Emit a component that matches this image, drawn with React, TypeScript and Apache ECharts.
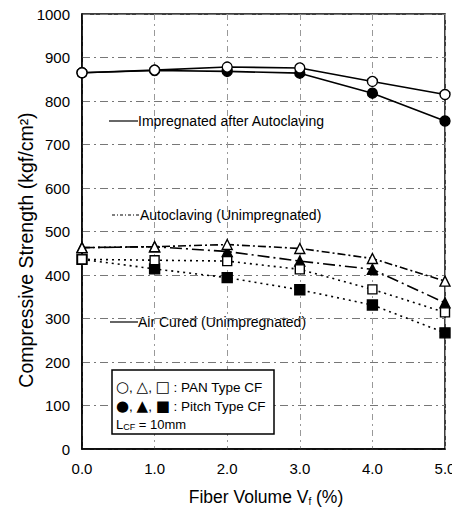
import React, { useEffect, useRef } from "react";
import * as echarts from "echarts";

const fiberVolume = [0, 1, 2, 3, 4, 5];
const impregPAN = [865, 871, 878, 876, 845, 815];
const impregPitch = [865, 870, 868, 864, 818, 754];
const autoPAN = [463, 465, 470, 461, 438, 386];
const autoPitch = [463, 465, 454, 432, 413, 336];
const airPAN = [436, 434, 432, 413, 367, 314];
const airPitch = [436, 414, 394, 366, 331, 267];

const FONT = "Liberation Sans";

function pairs(vals: number[]) {
  return fiberVolume.map((x, i) => [x, vals[i]]);
}

export default function App() {
  const ref = useRef<HTMLDivElement>(null);
  useEffect(() => {
    if (!ref.current) return;
    const chart = echarts.init(ref.current, undefined, { renderer: "svg" });
    const mk = (
      name: string,
      vals: number[],
      symbol: string,
      filled: boolean,
      lineType: any,
      size: number
    ) => ({
      name,
      type: "line",
      data: pairs(vals),
      symbol,
      symbolSize: size,
      showAllSymbol: true,
      lineStyle: { color: "#000", width: 1.6, type: lineType },
      itemStyle: {
        color: filled ? "#000" : "#fff",
        borderColor: "#000",
        borderWidth: 1.4,
      },
      z: filled ? 3 : 4,
    });
    const symStyle = { fontFamily: "DejaVu Sans", fontSize: 15, fill: "#000" };
    const txtStyle = { fontFamily: FONT, fontSize: 13.5, fill: "#000" };
    chart.setOption({
      animation: false,
      backgroundColor: "#fff",
      textStyle: { fontFamily: FONT },
      grid: {
        left: 82,
        right: 15,
        top: 14,
        bottom: 66,
        show: true,
        borderColor: "#000",
        borderWidth: 1.5,
      },
      xAxis: {
        type: "value",
        min: 0,
        max: 5,
        interval: 1,
        axisLine: { show: true, lineStyle: { color: "#000", width: 1.5 } },
        axisTick: { show: false },
        axisLabel: {
          fontFamily: FONT,
          fontSize: 15,
          color: "#000",
          margin: 12,
          formatter: (v: number) => v.toFixed(1),
        },
        splitLine: {
          show: true,
          lineStyle: { color: "#999", width: 1, type: [6, 4, 2, 4] },
        },
      },
      yAxis: {
        type: "value",
        min: 0,
        max: 1000,
        interval: 100,
        axisLine: { show: true, lineStyle: { color: "#000", width: 1.5 } },
        axisTick: { show: false },
        axisLabel: {
          fontFamily: FONT,
          fontSize: 15,
          color: "#000",
          margin: 12,
          formatter: (v: number) => String(v),
        },
        splitLine: {
          show: true,
          lineStyle: { color: "#777", width: 1, type: [8, 4, 2, 4] },
        },
      },
      series: [
        mk("Impregnated PAN", impregPAN, "circle", false, "solid", 10),
        mk("Impregnated Pitch", impregPitch, "circle", true, "solid", 10),
        mk("Autoclaving PAN", autoPAN, "triangle", false, [8, 3, 2, 3], 10),
        mk("Autoclaving Pitch", autoPitch, "triangle", true, [12, 4, 2, 4], 10),
        mk("Air Cured PAN", airPAN, "rect", false, [2, 4], 9),
        mk("Air Cured Pitch", airPitch, "rect", true, [2, 4], 10),
      ],
      graphic: [
        {
          type: "text",
          x: 26,
          y: 250,
          rotation: Math.PI / 2,
          style: {
            text: "Compressive Strength (kgf/cm²)",
            font: `19.5px "${FONT}"`,
            fill: "#000",
            align: "center",
            verticalAlign: "middle",
          },
        },
        {
          type: "text",
          x: 266,
          y: 487,
          style: {
            text: "Fiber Volume V{sub|f} (%)",
            font: `17.5px "${FONT}"`,
            fill: "#000",
            align: "center",
            verticalAlign: "top",
            rich: { sub: { fontSize: 10, fontFamily: FONT, fill: "#000", padding: [9, 0, 0, 0] } },
          },
        },
        { type: "line", shape: { x1: 109, y1: 121, x2: 138, y2: 121 }, style: { stroke: "#000", lineWidth: 1.2 } },
        { type: "text", x: 138, y: 121, style: { text: "Impregnated after Autoclaving", font: `14px "${FONT}"`, fill: "#000", verticalAlign: "middle" } },
        { type: "line", shape: { x1: 112, y1: 215, x2: 140, y2: 215 }, style: { stroke: "#000", lineWidth: 1.2, lineDash: [3, 2, 1, 2] } },
        { type: "text", x: 140, y: 215, style: { text: "Autoclaving (Unimpregnated)", font: `14px "${FONT}"`, fill: "#000", verticalAlign: "middle" } },
        { type: "line", shape: { x1: 110, y1: 322, x2: 138, y2: 322 }, style: { stroke: "#000", lineWidth: 1.2 } },
        { type: "text", x: 138, y: 322, style: { text: "Air Cured (Unimpregnated)", font: `14px "${FONT}"`, fill: "#000", verticalAlign: "middle" } },
        {
          type: "rect",
          shape: { x: 112, y: 370, width: 162, height: 64 },
          style: { fill: "#fff", stroke: "#000", lineWidth: 1.5 },
          z: 10,
        },
        {
          type: "text",
          x: 116,
          y: 387,
          z: 11,
          style: {
            text: "{s|○}{t|, }{s|△}{t|, }{s|□}{t| : PAN Type CF}",
            verticalAlign: "middle",
            rich: { s: symStyle, t: txtStyle },
          },
        },
        {
          type: "text",
          x: 116,
          y: 406,
          z: 11,
          style: {
            text: "{s|●}{t|, }{s|▲}{t|, }{s|■}{t| : Pitch Type CF}",
            verticalAlign: "middle",
            rich: { s: symStyle, t: txtStyle },
          },
        },
        {
          type: "text",
          x: 116,
          y: 424,
          z: 11,
          style: {
            text: "L{sub|CF} = 10mm",
            font: `13px "${FONT}"`,
            fill: "#000",
            verticalAlign: "middle",
            rich: { sub: { fontSize: 9, fontFamily: FONT, fill: "#000", padding: [6, 0, 0, 0] } },
          },
        },
      ],
    });
    return () => chart.dispose();
  }, []);
  return <div ref={ref} style={{ width: 460, height: 515, margin: -8 }} />;
}
